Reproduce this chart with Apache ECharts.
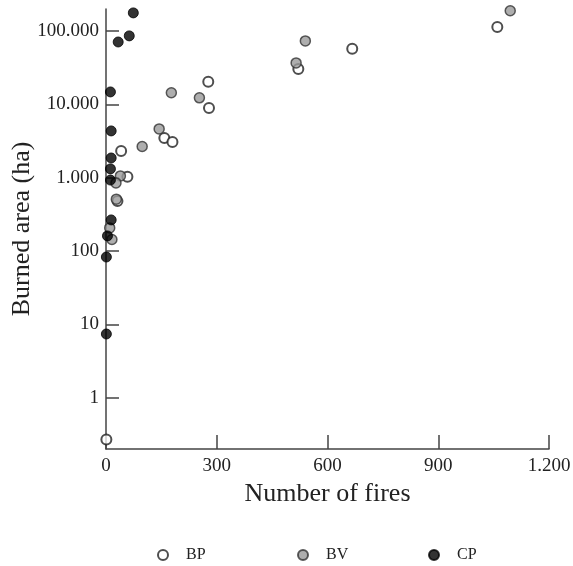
<!DOCTYPE html>
<html>
<head>
<meta charset="utf-8">
<script src="https://cdn.jsdelivr.net/npm/echarts@6/dist/echarts.min.js"></script>
<style>
  html, body { margin: 0; padding: 0; background: #fff; }
  #chart { width: 573px; height: 566px; }
</style>
</head>
<body>
<div id="chart"></div>
<script>
// ====== data ======
// BP: hollow, BV: grey, CP: black
const bpFires = [1060, 667, 521, 277, 279, 158, 180, 41, 58, 31, 1];
const bpArea = [114000, 57200, 30500, 20300, 8960, 3490, 3080, 2320, 1030, 480, 0.27];
const bvFires = [1095, 540, 515, 177, 253, 144, 98, 39, 27, 28, 10, 16];
const bvArea = [189000, 73500, 36800, 14400, 12300, 4630, 2670, 1060, 850, 510, 207, 144];
const cpFires = [74, 63, 33, 12, 14, 14, 12, 12, 14, 4, 1, 1];
const cpArea = [177000, 86000, 71000, 14800, 4350, 1860, 1320, 930, 266, 161, 83, 7.4];

const xTicks = [0, 300, 600, 900, 1200];
const yTicks = [1, 10, 100, 1000, 10000, 100000];

const serif = 'Liberation Serif';
const axisGrey = '#444';

// 千位用点号
const dotFmt = (v) => String(Math.round(v)).replace(/\B(?=(\d{3})+(?!\d))/g, '.');
const pairs = (xs, ys) => xs.map((x, i) => [x, ys[i]]);

const seriesDefs = [
    { name: 'BP', data: pairs(bpFires, bpArea), itemStyle: { color: '#fff', borderColor: '#222', borderWidth: 2 } },
    { name: 'BV', data: pairs(bvFires, bvArea), itemStyle: { color: '#9a9a9a', borderColor: '#333', borderWidth: 1.5 } },
    { name: 'CP', data: pairs(cpFires, cpArea), itemStyle: { color: '#000', borderColor: '#000', borderWidth: 1 } }
];

const legendLeft = [157, 297, 428];

const chart = echarts.init(document.getElementById('chart'));
chart.setOption({
    animation: false,
    textStyle: { fontFamily: serif },
    grid: { left: 106, right: 24, top: 9, bottom: 117, containLabel: false, outerBoundsMode: 'none' },
    legend: seriesDefs.map((s, i) => ({
        data: [s.name],
        left: legendLeft[i], top: 547,
        padding: 0,
        icon: 'circle', itemWidth: 10, itemHeight: 10,
        textStyle: { fontFamily: serif, fontSize: 16, color: '#222', padding: [0, 0, 0, 13] }
    })),
    xAxis: {
        type: 'value', min: 0, max: 1200, interval: 300,
        name: 'Number of fires', nameLocation: 'middle', nameGap: 32, nameMoveOverlap: false,
        nameTextStyle: { fontFamily: serif, fontSize: 26, color: '#222' },
        axisLine: { lineStyle: { color: axisGrey, width: 1.5 } },
        axisTick: { inside: true, length: 14, lineStyle: { color: axisGrey, width: 1.5 } },
        axisLabel: { fontFamily: serif, fontSize: 19, color: '#222', margin: 8, formatter: dotFmt },
        splitLine: { show: false }
    },
    yAxis: {
        type: 'log', logBase: 10, min: 0.2, max: 200000,
        name: 'Burned area (ha)', nameLocation: 'middle', nameGap: 71, nameMoveOverlap: false,
        nameTextStyle: { fontFamily: serif, fontSize: 26, color: '#222' },
        axisLine: { show: true, lineStyle: { color: axisGrey, width: 1.5 } },
        axisTick: { inside: true, length: 13, customValues: yTicks, lineStyle: { color: axisGrey, width: 1.5 } },
        axisLabel: { fontFamily: serif, fontSize: 19, color: '#222', margin: 7, customValues: yTicks, formatter: dotFmt },
        splitLine: { show: false },
        minorTick: { show: false }
    },
    series: seriesDefs.map(s => ({
        name: s.name,
        type: 'scatter',
        symbol: 'circle',
        symbolSize: 10,
        clip: false,
        itemStyle: s.itemStyle,
        data: s.data
    }))
});
</script>
</body>
</html>
